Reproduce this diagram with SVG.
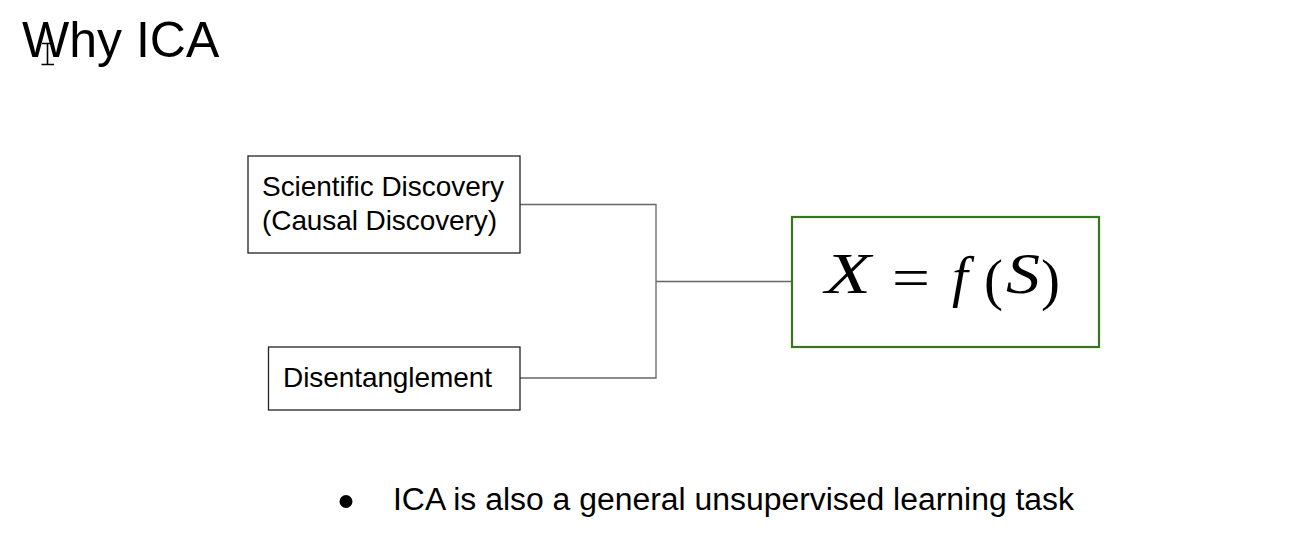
<svg xmlns="http://www.w3.org/2000/svg" width="1312" height="551" viewBox="0 0 1312 551">
<style>
.sans{font-family:"Liberation Sans",Arial,sans-serif;fill:#000}
.box{fill:#fff;stroke:#222;stroke-width:1.3}
.conn{fill:none;stroke:#666;stroke-width:1.3}
.math{font-family:"Liberation Serif","Times New Roman",serif;font-size:57px;fill:#000}
.it{font-style:italic}
</style>
<rect width="1312" height="551" fill="#fff"/>
<text class="sans" x="22" y="57" font-size="50">Why ICA</text>
<path d="M42,43.5 H53 M47.5,43.5 V64.5 M41.5,64.5 H54" stroke="#000" stroke-width="1.6" fill="none"/>
<g id="connectors">
<path class="conn" d="M520,204.5 H656 V378 H520"/>
<path class="conn" d="M656,281.5 H792"/>
</g>
<g id="node-scientific">
<rect class="box" x="248" y="156" width="272" height="97"/>
<text class="sans" x="262" y="196" font-size="28" textLength="242">Scientific Discovery</text>
<text class="sans" x="262" y="230" font-size="28" textLength="235">(Causal Discovery)</text>
</g>
<g id="node-disentanglement">
<rect class="box" x="268.5" y="347" width="251.5" height="63"/>
<text class="sans" x="283" y="387" font-size="28" textLength="209">Disentanglement</text>
</g>
<g id="node-formula">
<rect x="792" y="217" width="307" height="130" fill="#fff" stroke="#38761d" stroke-width="2.2"/>
<text class="math it" x="825" y="293" textLength="46" lengthAdjust="spacingAndGlyphs">X</text>
<text class="math" x="892" y="297" textLength="38" lengthAdjust="spacingAndGlyphs">=</text>
<text class="math it" x="952" y="296" font-size="66">f</text>
<text class="math" x="984" y="299" font-size="64">(</text>
<text class="math it" x="1006" y="293" textLength="34" lengthAdjust="spacingAndGlyphs">S</text>
<text class="math" x="1041" y="299" font-size="64">)</text>
</g>
<circle cx="346" cy="501.5" r="6.5" fill="#000"/>
<text class="sans" x="393" y="510" font-size="31" textLength="681" lengthAdjust="spacingAndGlyphs">ICA is also a general unsupervised learning task</text>
</svg>
